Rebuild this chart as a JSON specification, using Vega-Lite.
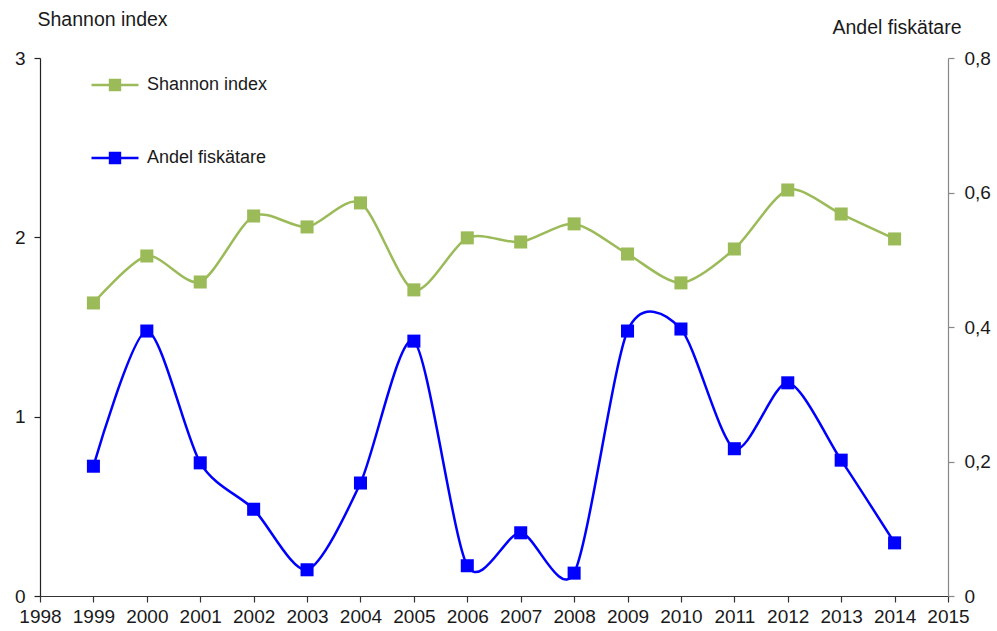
{
  "$schema": "https://vega.github.io/schema/vega-lite/v6.json",
  "width": 908,
  "height": 538,
  "autosize": "none",
  "padding": {"left": 40, "top": 58, "right": 49, "bottom": 35},
  "background": "white",
  "config": {
    "view": {"stroke": null},
    "font": "Liberation Sans",
    "axis": {"grid": false, "labelFontSize": 19, "labelColor": "#1a1a1a", "titleFontSize": 19.5, "titleFontWeight": "normal", "titleColor": "#1a1a1a", "tickSize": 6, "labelPadding": 4, "domainWidth": 1.2, "tickWidth": 1.2}
  },
  "data": {
    "values": [
      {"year": 1999, "series": "Shannon index", "value": 1.634},
      {"year": 2000, "series": "Shannon index", "value": 1.896},
      {"year": 2001, "series": "Shannon index", "value": 1.751},
      {"year": 2002, "series": "Shannon index", "value": 2.119},
      {"year": 2003, "series": "Shannon index", "value": 2.058},
      {"year": 2004, "series": "Shannon index", "value": 2.192},
      {"year": 2005, "series": "Shannon index", "value": 1.707},
      {"year": 2006, "series": "Shannon index", "value": 1.997},
      {"year": 2007, "series": "Shannon index", "value": 1.974},
      {"year": 2008, "series": "Shannon index", "value": 2.075},
      {"year": 2009, "series": "Shannon index", "value": 1.907},
      {"year": 2010, "series": "Shannon index", "value": 1.746},
      {"year": 2011, "series": "Shannon index", "value": 1.935},
      {"year": 2012, "series": "Shannon index", "value": 2.264},
      {"year": 2013, "series": "Shannon index", "value": 2.13},
      {"year": 2014, "series": "Shannon index", "value": 1.991},
      {"year": 1999, "series": "Andel fiskätare", "value": 0.193},
      {"year": 2000, "series": "Andel fiskätare", "value": 0.394},
      {"year": 2001, "series": "Andel fiskätare", "value": 0.198},
      {"year": 2002, "series": "Andel fiskätare", "value": 0.129},
      {"year": 2003, "series": "Andel fiskätare", "value": 0.039},
      {"year": 2004, "series": "Andel fiskätare", "value": 0.168},
      {"year": 2005, "series": "Andel fiskätare", "value": 0.379},
      {"year": 2006, "series": "Andel fiskätare", "value": 0.045},
      {"year": 2007, "series": "Andel fiskätare", "value": 0.094},
      {"year": 2008, "series": "Andel fiskätare", "value": 0.034},
      {"year": 2009, "series": "Andel fiskätare", "value": 0.394},
      {"year": 2010, "series": "Andel fiskätare", "value": 0.397},
      {"year": 2011, "series": "Andel fiskätare", "value": 0.219},
      {"year": 2012, "series": "Andel fiskätare", "value": 0.317},
      {"year": 2013, "series": "Andel fiskätare", "value": 0.202},
      {"year": 2014, "series": "Andel fiskätare", "value": 0.079}
    ]
  },
  "encoding": {
    "x": {
      "field": "year", "type": "quantitative",
      "scale": {"domain": [1998, 2015], "nice": false, "zero": false},
      "axis": {"title": null, "values": [1998,1999,2000,2001,2002,2003,2004,2005,2006,2007,2008,2009,2010,2011,2012,2013,2014,2015], "format": "d", "domainColor": "#333333", "tickColor": "#333333", "labelFlush": false, "labelPadding": 5}
    },
    "color": {
      "field": "series", "type": "nominal",
      "scale": {"domain": ["Shannon index", "Andel fiskätare"], "range": ["#9BBB59", "#0000FF"]},
      "legend": {
        "title": null, "orient": "none", "legendX": 50, "legendY": 2,
        "symbolType": "M-1,0H1M-0.21,-0.21H0.21V0.21H-0.21Z",
        "symbolSize": 2209, "symbolStrokeWidth": 2.5,
        "labelFontSize": 18, "labelColor": "#1a1a1a", "labelOffset": 7,
        "rowPadding": 38,
        "encode": {"symbols": {"update": {"fill": {"scale": "color", "field": "value"}, "stroke": {"scale": "color", "field": "value"}, "strokeWidth": {"value": 2.5}, "opacity": {"value": 1}}}}
      }
    }
  },
  "layer": [
    {
      "transform": [{"filter": "datum.series === 'Shannon index'"}],
      "mark": {"type": "line", "interpolate": "cardinal", "tension": 0.2, "strokeWidth": 2.5, "point": {"shape": "square", "size": 170, "filled": true, "opacity": 1}},
      "encoding": {
        "y": {
          "field": "value", "type": "quantitative",
          "scale": {"domain": [0, 3], "nice": false},
          "axis": {"orient": "left", "values": [0, 1, 2, 3], "labelPadding": 9, "title": "Shannon index", "titleAngle": 0, "titleAlign": "left", "titleBaseline": "alphabetic", "titleX": -3, "titleY": -33, "domainColor": "#222222", "tickColor": "#222222"}
        }
      }
    },
    {
      "transform": [{"filter": "datum.series === 'Andel fiskätare'"}],
      "mark": {"type": "line", "interpolate": "cardinal", "tension": 0.2, "strokeWidth": 2.5, "point": {"shape": "square", "size": 170, "filled": true, "opacity": 1}},
      "encoding": {
        "y": {
          "field": "value", "type": "quantitative",
          "scale": {"domain": [0, 0.8], "nice": false},
          "axis": {"orient": "right", "values": [0, 0.2, 0.4, 0.6, 0.8], "labelPadding": 10, "labelExpr": "datum.value == 0 ? '0' : replace(format(datum.value, '.1f'), '.', ',')", "title": "Andel fiskätare", "titleAngle": 0, "titleAlign": "left", "titleBaseline": "alphabetic", "titleX": -116, "titleY": -25, "domainColor": "#888888", "tickColor": "#888888"}
        }
      }
    }
  ],
  "resolve": {"scale": {"y": "independent"}}
}
